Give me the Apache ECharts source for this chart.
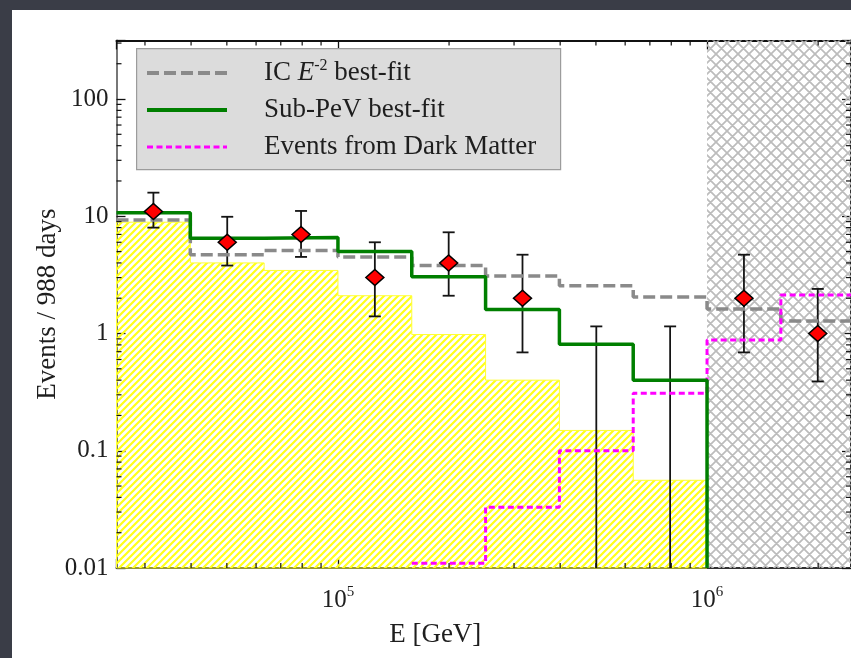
<!DOCTYPE html>
<html>
<head>
<meta charset="utf-8">
<script src="https://cdn.jsdelivr.net/npm/echarts@6/dist/echarts.min.js"></script>
<style>
  html, body { margin: 0; padding: 0; width: 851px; height: 658px; overflow: hidden; background: #3a3d47; }
  #chart { position: absolute; left: 12px; top: 10px; width: 839px; height: 648px; background: #ffffff; }
</style>
</head>
<body>
<div id="chart"></div>
<script>
// Energy bins (GeV), five per decade
const binEdges = [25119, 39811, 63096, 100000, 158489, 251189, 398107, 630957, 1000000, 1584893, 2511886];

// Expected events per bin
const icFit = [9.3, 4.7, 5.1, 4.5, 3.8, 3.1, 2.55, 2.05, 1.62, 1.28];
const subPeVFit = [10.7, 6.5, 6.6, 5.0, 3.05, 1.6, 0.81, 0.40];
const darkMatter = [null, null, null, null, 0.011, 0.033, 0.10, 0.31, 0.88, 2.13];
const background = [8.9, 4.0, 3.45, 2.1, 0.98, 0.40, 0.149, 0.056];

// Observed events with error bars
const eventE = [31623, 50119, 79433, 125893, 199526, 316228, 501187, 794328, 1258925, 1995262];
const eventCounts = [11, 6, 7, 3, 4, 2, 0, 0, 2, 1];
const errLow = [8.0, 3.8, 4.5, 1.4, 2.1, 0.69, 0, 0, 0.69, 0.39];
const errHigh = [15.9, 9.9, 11.1, 6.0, 7.3, 4.7, 1.15, 1.15, 4.7, 2.4];

// Region above this energy is shaded
const cutEnergy = 1000000;

// Axis ranges and labelled ticks
const xRange = [25119, 2455000];
const yRange = [0.01, 316.2];
const xTickValues = [100000, 1000000];
const xTickLabels = ['10{s|5}', '10{s|6}'];
const yTickValues = [0.01, 0.1, 1, 10, 100];
const yTickLabels = ['0.01', '0.1', '1', '10', '100'];

const FONT = 'Liberation Serif';
const TEXT = '#1e1e1e';

function labelFor(values, labels) {
  return function (v) {
    for (let i = 0; i < values.length; i++) {
      if (Math.abs(Math.log10(v) - Math.log10(values[i])) < 1e-6) return labels[i];
    }
    return '';
  };
}

function stepPoints(vals, dropTo) {
  const pts = [];
  vals.forEach(function (v, i) {
    if (v == null) return;
    pts.push([binEdges[i], v], [binEdges[i + 1], v]);
  });
  if (dropTo != null) pts.push([pts[pts.length - 1][0], dropTo]);
  return pts;
}

function minorTicks(lo, hi) {
  const t = [];
  for (let k = Math.floor(Math.log10(lo)); k <= Math.ceil(Math.log10(hi)); k++) {
    for (let m = 2; m <= 9; m++) {
      const v = m * Math.pow(10, k);
      if (v > lo && v < hi) t.push(v);
    }
  }
  return t;
}

// Diagonal yellow hatching
function yellowHatch() {
  const p = 7;
  const c = document.createElement('canvas');
  c.width = p; c.height = p;
  const g = c.getContext('2d');
  g.strokeStyle = '#ffff1a';
  g.lineWidth = 2.2;
  g.beginPath();
  for (let o = -p; o <= p; o += p) {
    g.moveTo(o - 1, p + 1); g.lineTo(o + p + 1, -1);
  }
  g.stroke();
  return { type: 'pattern', image: c, repeat: 'repeat' };
}

// Gray cross-hatching
function grayCross() {
  const p = 11;
  const c = document.createElement('canvas');
  c.width = p; c.height = p;
  const g = c.getContext('2d');
  g.strokeStyle = '#bcbcbc';
  g.lineWidth = 1.7;
  g.beginPath();
  for (let o = -p; o <= p; o += p) {
    g.moveTo(o - 1, p + 1); g.lineTo(o + p + 1, -1);
    g.moveTo(o - 1, -1); g.lineTo(o + p + 1, p + 1);
  }
  g.stroke();
  return { type: 'pattern', image: c, repeat: 'repeat' };
}

const hatchFill = yellowHatch();
const crossFill = grayCross();

const chart = echarts.init(document.getElementById('chart'), null, { renderer: 'canvas' });

const tickStyle = { color: '#111', width: 1.3 };

const option = {
  animation: false,
  backgroundColor: '#ffffff',
  grid: { left: 104.5, top: 30.4, right: 0, bottom: 90, containLabel: false, outerBoundsMode: 'none' },
  graphic: [{
    type: 'rect', left: 124, top: 38, z: 3,
    shape: { width: 424, height: 121 },
    style: { fill: '#dcdcdc', stroke: '#9c9c9c', lineWidth: 1.2 }
  }],
  legend: {
    orient: 'vertical', left: 133, top: 48, z: 6,
    padding: 0, itemGap: 7, itemWidth: 80, itemHeight: 14,
    itemStyle: { opacity: 0 },
    lineStyle: { width: 4 },
    data: [
      { name: 'IC E-2 best-fit' },
      { name: 'Sub-PeV best-fit' },
      { name: 'Events from Dark Matter', lineStyle: { width: 3 } }
    ],
    formatter: function (name) {
      return name === 'IC E-2 best-fit' ? 'IC {i|E}{s|-2} best-fit' : name;
    },
    textStyle: {
      fontFamily: FONT, fontSize: 27, lineHeight: 30, color: TEXT, padding: [0, 0, 0, 32],
      rich: {
        i: { fontFamily: FONT, fontSize: 27, lineHeight: 30, fontStyle: 'italic', color: TEXT },
        s: { fontFamily: FONT, fontSize: 16, lineHeight: 16, verticalAlign: 'top', color: TEXT }
      }
    }
  },
  xAxis: [{
    type: 'log', logBase: 10, min: xRange[0], max: xRange[1], position: 'bottom',
    axisLine: { lineStyle: { color: '#333', width: 2 } },
    axisTick: { inside: true, length: 9, lineStyle: tickStyle },
    splitLine: { show: false },
    axisLabel: {
      formatter: labelFor(xTickValues, xTickLabels), margin: 17,
      fontFamily: FONT, fontSize: 25, lineHeight: 30, color: TEXT,
      rich: { s: { fontFamily: FONT, fontSize: 15, lineHeight: 15, verticalAlign: 'top', color: TEXT } }
    },
    name: 'E [GeV]', nameLocation: 'middle', nameGap: 53, nameMoveOverlap: false,
    nameTextStyle: { fontFamily: FONT, fontSize: 27, color: TEXT, padding: [0, 97, 0, 0] }
  }, {
    type: 'log', logBase: 10, min: xRange[0], max: xRange[1], position: 'top',
    axisLine: { lineStyle: { color: '#111', width: 2 } },
    axisTick: { inside: true, length: 9, lineStyle: tickStyle },
    splitLine: { show: false },
    axisLabel: { show: false }
  }],
  yAxis: [{
    type: 'log', logBase: 10, min: yRange[0], max: yRange[1], position: 'left',
    axisLine: { lineStyle: { color: '#777', width: 2 } },
    axisTick: { inside: true, length: 9, lineStyle: tickStyle },
    splitLine: { show: false },
    axisLabel: {
      formatter: labelFor(yTickValues, yTickLabels), margin: 8,
      fontFamily: FONT, fontSize: 25, color: TEXT
    },
    name: 'Events / 988 days', nameLocation: 'middle', nameGap: 55, nameMoveOverlap: false,
    nameTextStyle: { fontFamily: FONT, fontSize: 27, color: TEXT }
  }, {
    type: 'log', logBase: 10, min: yRange[0], max: yRange[1], position: 'right',
    axisLine: { lineStyle: { color: '#333', width: 2 } },
    axisTick: { inside: true, length: 9, lineStyle: tickStyle },
    splitLine: { show: false },
    axisLabel: { show: false }
  }],
  series: [
    {
      // hatched background histogram
      type: 'custom', name: 'background', silent: true,
      data: [[binEdges[0], yRange[0]]],
      renderItem: function (params, api) {
        const pts = [api.coord([binEdges[0], yRange[0]])];
        background.forEach(function (v, i) {
          pts.push(api.coord([binEdges[i], v]), api.coord([binEdges[i + 1], v]));
        });
        pts.push(api.coord([binEdges[background.length], yRange[0]]));
        return {
          type: 'polygon', shape: { points: pts },
          style: { fill: hatchFill, stroke: '#ffff33', lineWidth: 1 }
        };
      }
    },
    {
      // shaded high-energy region
      type: 'custom', name: 'cut', silent: true,
      data: [[cutEnergy, yRange[0]]],
      renderItem: function (params, api) {
        const a = api.coord([cutEnergy, yRange[1]]);
        const b = api.coord([xRange[1], yRange[0]]);
        return {
          type: 'rect', shape: { x: a[0], y: a[1], width: b[0] - a[0] + 2, height: b[1] - a[1] },
          style: { fill: crossFill }
        };
      }
    },
    {
      type: 'line', name: 'IC E-2 best-fit', data: stepPoints(icFit),
      symbol: 'none', showSymbol: false, clip: true,
      lineStyle: { color: '#8a8a8a', width: 3.5, type: [12, 5], cap: 'butt' },
      itemStyle: { color: '#8a8a8a' }
    },
    {
      type: 'line', name: 'Events from Dark Matter', data: stepPoints(darkMatter),
      symbol: 'none', showSymbol: false, clip: true,
      lineStyle: { color: '#ff00ff', width: 3, type: [6, 3.5], cap: 'butt' },
      itemStyle: { color: '#ff00ff' }
    },
    {
      type: 'line', name: 'Sub-PeV best-fit', data: stepPoints(subPeVFit, yRange[0]),
      symbol: 'none', showSymbol: false, clip: true,
      lineStyle: { color: '#007f00', width: 3.5 },
      itemStyle: { color: '#007f00' }
    },
    {
      // error bars
      type: 'custom', name: 'errors', silent: true,
      data: eventE.map(function (e, i) { return [e, errLow[i], errHigh[i]]; }),
      encode: { x: 0, y: [1, 2] },
      renderItem: function (params, api) {
        const x = api.value(0);
        const low = api.value(1);
        const top = api.coord([x, api.value(2)]);
        const bot = api.coord([x, Math.max(low, yRange[0])]);
        const st = { stroke: '#141414', lineWidth: 1.8 };
        const cap = 6;
        const kids = [
          { type: 'line', shape: { x1: top[0], y1: top[1], x2: bot[0], y2: bot[1] }, style: st },
          { type: 'line', shape: { x1: top[0] - cap, y1: top[1], x2: top[0] + cap, y2: top[1] }, style: st }
        ];
        if (low > yRange[0]) {
          kids.push({ type: 'line', shape: { x1: bot[0] - cap, y1: bot[1], x2: bot[0] + cap, y2: bot[1] }, style: st });
        }
        return { type: 'group', children: kids };
      }
    },
    {
      type: 'scatter', name: 'events',
      data: eventE.map(function (e, i) { return [e, eventCounts[i]]; }).filter(function (d) { return d[1] > 0; }),
      symbol: 'diamond', symbolSize: [18, 16],
      itemStyle: { color: '#ff0000', borderColor: '#000', borderWidth: 1.5, opacity: 1 },
      z: 5
    },
    {
      // minor ticks on all four sides
      type: 'custom', name: 'minor', silent: true, z: 6,
      data: [[xRange[0], yRange[0]]],
      renderItem: function (params, api) {
        const kids = [];
        const st = { stroke: '#111', lineWidth: 1.2 };
        const L = 5;
        const bl = api.coord([xRange[0], yRange[0]]);
        const tr = api.coord([xRange[1], yRange[1]]);
        minorTicks(xRange[0], xRange[1]).forEach(function (v) {
          const px = api.coord([v, yRange[0]])[0];
          kids.push({ type: 'line', shape: { x1: px, y1: bl[1], x2: px, y2: bl[1] - L }, style: st });
          kids.push({ type: 'line', shape: { x1: px, y1: tr[1], x2: px, y2: tr[1] + L }, style: st });
        });
        minorTicks(yRange[0], yRange[1]).forEach(function (v) {
          const py = api.coord([xRange[0], v])[1];
          kids.push({ type: 'line', shape: { x1: bl[0], y1: py, x2: bl[0] + L, y2: py }, style: st });
          kids.push({ type: 'line', shape: { x1: tr[0], y1: py, x2: tr[0] - L, y2: py }, style: st });
        });
        return { type: 'group', children: kids };
      }
    }
  ]
};

chart.setOption(option);
</script>
</body>
</html>
